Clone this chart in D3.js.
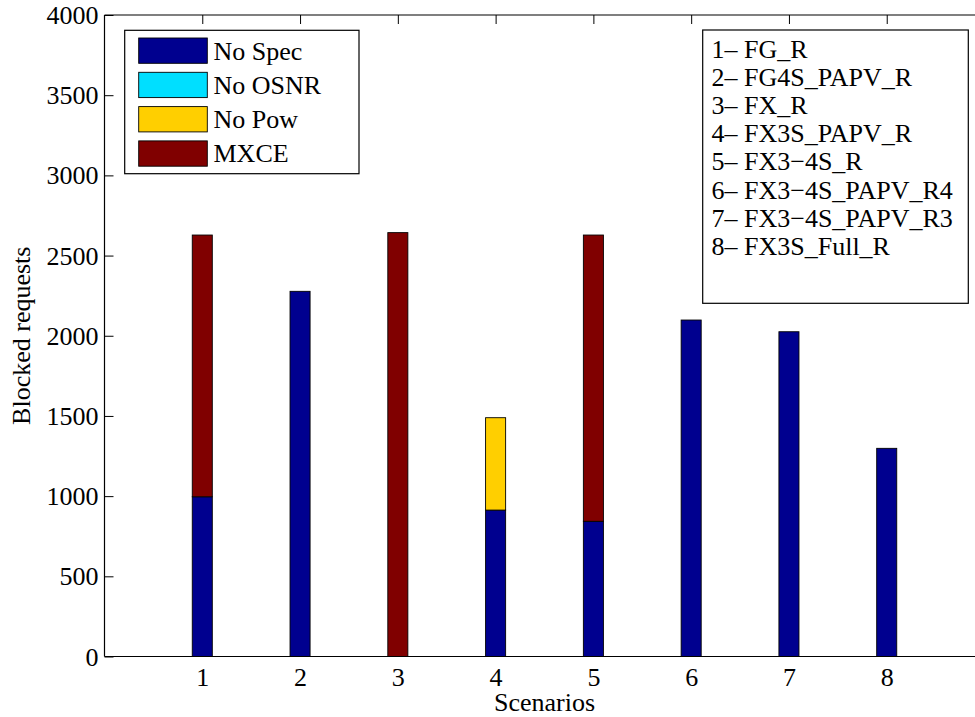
<!DOCTYPE html>
<html><head><meta charset="utf-8">
<script src="https://cdn.jsdelivr.net/npm/d3@7"></script>
<style>
body{margin:0;background:#fff;}
svg{display:block;}
svg text{font-family:"Liberation Serif","Times New Roman",serif;}
</style></head>
<body>
<svg id="chart" width="975" height="717"></svg>
<script>
const scenarios = [1,2,3,4,5,6,7,8];
const seriesNames = ["No Spec","No OSNR","No Pow","MXCE"];
const seriesColors = ["#00008F","#00DFFF","#FFCF00","#800000"];
const noSpec = [996, 2277, 0, 913, 843, 2098, 2025, 1298];
const noOSNR = [0, 0, 0, 0, 0, 0, 0, 0];
const noPow  = [0, 0, 0, 576, 0, 0, 0, 0];
const mxce   = [1632, 0, 2643, 0, 1785, 0, 0, 0];
const yTicks = [0,500,1000,1500,2000,2500,3000,3500,4000];
const scenarioNames = ["1\u2013 FG_R","2\u2013 FG4S_PAPV_R","3\u2013 FX_R","4\u2013 FX3S_PAPV_R",
  "5\u2013 FX3\u22124S_R","6\u2013 FX3\u22124S_PAPV_R4","7\u2013 FX3\u22124S_PAPV_R3","8\u2013 FX3S_Full_R"];

const rows = scenarios.map((s,i)=>({s, "No Spec":noSpec[i], "No OSNR":noOSNR[i], "No Pow":noPow[i], "MXCE":mxce[i]}));
const stack = d3.stack().keys(seriesNames)(rows);

const svg = d3.select("#chart");
const L = 104.5, T = 15, B = 656.5, R = 984.5;
const x = d3.scaleLinear().domain([0,9]).range([L,R]);
const y = d3.scaleLinear().domain([0,4000]).range([B,T]);
const bw = x(0.205) - x(0);
const FS = 26;

// bars
stack.forEach((layer,k)=>{
  svg.append("g").selectAll("rect").data(layer.filter(d=>d[1]-d[0]>0)).join("rect")
    .attr("x", d=>x(d.data.s)-bw/2)
    .attr("width", bw)
    .attr("y", d=>y(d[1]))
    .attr("height", d=>y(d[0])-y(d[1]))
    .attr("fill", seriesColors[k])
    .attr("stroke", "#000").attr("stroke-width", 0.9);
});

// axes box
const ax = svg.append("g").attr("stroke","#000").attr("stroke-width",1.2).attr("fill","none");
ax.append("line").attr("x1",L).attr("x2",R).attr("y1",T).attr("y2",T);
ax.append("line").attr("x1",L).attr("x2",R).attr("y1",B).attr("y2",B);
ax.append("line").attr("x1",L).attr("x2",L).attr("y1",T).attr("y2",B);

// y axis
const yAxis = d3.axisLeft(y).tickValues(yTicks).tickFormat(d3.format("d")).tickSizeInner(-9).tickSizeOuter(0).tickPadding(7);
const gy = svg.append("g").attr("transform",`translate(${L},0)`).call(yAxis);
gy.attr("font-family",null).attr("font-size",null);
gy.select(".domain").remove();
gy.selectAll("text").attr("font-size",FS).attr("fill","#000").attr("x",-6).attr("dy","0.33em");
gy.selectAll("line").attr("stroke","#000");

// x axis (labels bottom, ticks on top edge)
const xAxis = d3.axisBottom(x).tickValues(scenarios).tickSize(0).tickPadding(0);
const gx = svg.append("g").attr("transform",`translate(0,${B})`).call(xAxis);
gx.attr("font-family",null).attr("font-size",null);
gx.select(".domain").remove();
gx.selectAll("text").attr("font-size",FS).attr("fill","#000").attr("y",29).attr("dy",0);
const xTop = d3.axisTop(x).tickValues(scenarios).tickSizeInner(-9).tickSizeOuter(0).tickFormat("");
const gxt = svg.append("g").attr("transform",`translate(0,${T})`).call(xTop);
gxt.select(".domain").remove();
gxt.selectAll("line").attr("stroke","#000");

// axis labels
svg.append("text").attr("x",(L+R)/2).attr("y",711).attr("text-anchor","middle")
  .attr("font-size",FS).text("Scenarios");
svg.append("text").attr("transform",`translate(30,${(T+B)/2}) rotate(-90)`).attr("text-anchor","middle")
  .attr("font-size",FS).text("Blocked requests");

// legend 1
const lg = svg.append("g");
lg.append("rect").attr("x",124.7).attr("y",30.3).attr("width",234.3).attr("height",143.4)
  .attr("fill","#fff").attr("stroke","#000").attr("stroke-width",1.2);
seriesNames.forEach((n,i)=>{
  const yy = 38 + i*34.3;
  lg.append("rect").attr("x",138.7).attr("y",yy).attr("width",68.6).attr("height",25.3)
    .attr("fill",seriesColors[i]).attr("stroke","#000").attr("stroke-width",0.9);
  lg.append("text").attr("x",213.5).attr("y",yy+21.5).attr("font-size",FS).text(n);
});

// legend 2
const lg2 = svg.append("g");
lg2.append("rect").attr("x",702.7).attr("y",30).attr("width",265.6).attr("height",273.3)
  .attr("fill","#fff").attr("stroke","#000").attr("stroke-width",1.2);
scenarioNames.forEach((n,i)=>{
  lg2.append("text").attr("x",711.5).attr("y",58 + i*28.1).attr("font-size",FS).text(n);
});
</script>
</body></html>
